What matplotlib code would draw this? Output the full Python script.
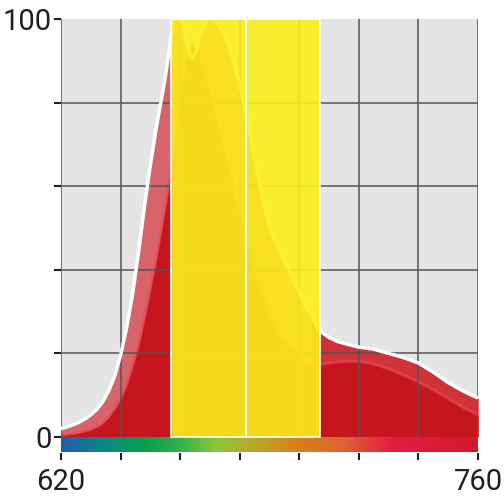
import numpy as np
import matplotlib.pyplot as plt
from matplotlib.patches import Rectangle
from matplotlib.colors import LinearSegmentedColormap

plt.rcParams['font.family'] = ['Roboto', 'DejaVu Sans']

# outer spectrum (white outline)
wl_outer = [620, 622, 624, 626, 628, 630, 632, 634, 636, 638, 640, 642, 644, 646,
            648, 650, 652, 654, 655, 656, 657, 658, 659, 660, 661, 662, 663, 664,
            665, 666, 667, 668, 669, 670, 672, 674, 676, 678, 680, 682, 684, 686,
            688, 690, 692, 694, 696, 698, 700, 702, 704, 706, 708, 710, 713, 716,
            720, 725, 730, 735, 740, 745, 750, 755, 760]
val_outer = [2.0, 2.4, 2.9, 3.5, 4.3, 5.3, 6.6, 8.4, 11, 14.5, 19.5, 26, 34, 44,
             55, 65, 74, 82, 86, 91, 96, 100, 101, 100.5, 98.5, 95, 92, 90.5,
             91.5, 94, 96.5, 98.4, 99.6, 100, 99.4, 97.5, 94.4, 90, 84.5, 78, 70.5, 63,
             56, 50.5, 46.5, 43.5, 40.5, 37.5, 34.5, 31.5, 29, 26.5, 24.8, 23.8, 22.8, 22.2,
             21.5, 21, 20, 19, 17.7, 15.5, 13, 11, 9.3]

# inner spectrum (solid red)
wl_inner = [620, 625, 630, 633, 636, 638, 640, 642, 644, 646, 648, 650, 652, 654,
            656, 658, 660, 662, 664, 666, 668, 670, 674, 678, 682, 686, 690, 695,
            700, 705, 708, 712, 716, 720, 725, 730, 735, 740, 745, 750, 755, 760]
val_inner = [0.5, 0.9, 1.8, 2.8, 4.8, 6.8, 9.2, 12.5, 17, 22, 28.5, 35.5, 43, 51,
             59.5, 70, 82, 90, 94, 92, 88, 83, 72, 60, 48, 38, 30, 23,
             19, 17.5, 17.5, 17.9, 18.1, 18.1, 17.5, 16.3, 14.8, 13.2, 11.3, 9.2, 7.1, 5.3]

bands = [(657, 682), (682, 707)]

bar_pos = [620, 635, 648, 660, 672, 685, 700, 715, 732, 760]
bar_col = ['#1F5FAD', '#0A8A80', '#06A052', '#37AF4A', '#8CC63E',
           '#B9A72B', '#D6801A', '#DD6336', '#E31B43', '#D21A2A']

xticks = [620, 640, 660, 680, 700, 720, 740, 760]
xlabels = ['620', '', '', '', '', '', '', '760']
yticks = [0, 20, 40, 60, 80, 100]
ylabels = ['0', '', '', '', '', '100']

wo = np.array(wl_outer); vo = np.array(val_outer)
wi = np.array(wl_inner); vi = np.array(val_inner)

fig = plt.figure(figsize=(5.04, 5.04), dpi=100)
ax = fig.add_axes([61/504, 1-453/504, 417/504, 434/504])

ax.axhspan(0, 100, color='#E5E5E5', lw=0, zorder=0)

ax.fill_between(wo, 0, vo, color='#D7636B', lw=0, zorder=1)
ax.fill_between(wo, 0, vo, where=wo >= 704, color='#CD3338', lw=0, zorder=1.1)
ax.fill_between(wi, 0, vi, color='#C4161C', lw=0, zorder=2)
ax.plot(wi, vi, color='#EE4A55', lw=2.2, alpha=0.6, zorder=2.5)

ax.vlines(xticks, 0, 100, color='#555555', lw=1.1, zorder=3)
ax.hlines(yticks[1:-1], 620, 760, color='#555555', lw=1.1, zorder=3)

ax.plot(wo, vo, color='white', lw=2.5, zorder=4, solid_capstyle='butt')

for a, b in bands:
    ax.add_patch(Rectangle((a, 0), b - a, 100, facecolor='#FDEF1C', alpha=0.9,
                           edgecolor='none', zorder=5))
    ax.add_patch(Rectangle((a, 0), b - a, 100, facecolor='none',
                           edgecolor='white', lw=1.2, zorder=5.5))

stops = [(p - 620) / 140 for p in bar_pos]
cmap = LinearSegmentedColormap.from_list('spec', list(zip(stops, bar_col)))
ax.imshow(np.linspace(0, 1, 512)[None, :], cmap=cmap, aspect='auto',
          extent=(620, 760, -3.6, -0.25), zorder=2)

ax.set_xlim(620, 760)
ax.set_ylim(-3.83, 100)
for s in ax.spines.values():
    s.set_visible(False)
ax.set_xticks(xticks)
ax.set_xticklabels(xlabels)
ax.set_yticks(yticks)
ax.set_yticklabels(ylabels)
ax.tick_params(direction='out', length=5, width=1.5, color='#231F20',
               labelcolor='#231F20', labelsize=21, pad=2)
ax.tick_params(axis='x', pad=6)

fig.savefig('out.png', dpi=100)
